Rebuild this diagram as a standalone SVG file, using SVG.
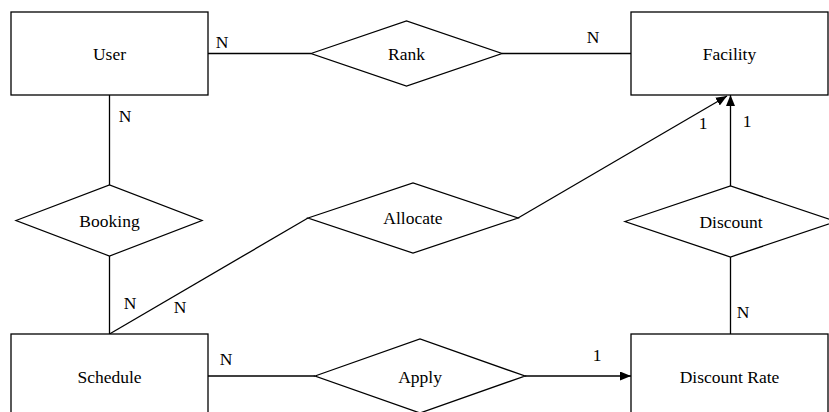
<svg xmlns="http://www.w3.org/2000/svg" width="829" height="412" viewBox="0 0 829 412">
<style>
.box{fill:#fff;stroke:#000;stroke-width:1.3}
.lbl{font-family:'Liberation Serif','Times New Roman',Tinos,'Nimbus Roman','DejaVu Serif',serif;font-size:17.5px;fill:#000;text-anchor:middle}
.edge{fill:none;stroke:#000;stroke-width:1.3}
</style>
<defs>
<marker id="arr" markerWidth="12" markerHeight="10" refX="11" refY="4.5" orient="auto" markerUnits="userSpaceOnUse">
<path d="M0,0 L11,4.5 L0,9 Z" fill="#000"/>
</marker>
</defs>
<rect width="829" height="412" fill="#fff"/>
<g id="connectors">
<line class="edge" x1="208" y1="53.5" x2="311" y2="53.5"/>
<line class="edge" x1="502" y1="53.5" x2="631" y2="53.5"/>
<line class="edge" x1="109.5" y1="95" x2="109.5" y2="185"/>
<line class="edge" x1="109.5" y1="256" x2="109.5" y2="334"/>
<line class="edge" x1="109.5" y1="334" x2="308" y2="218"/>
<line class="edge" x1="518" y1="218" x2="727" y2="96" marker-end="url(#arr)"/>
<line class="edge" x1="730.5" y1="186" x2="730.5" y2="95" marker-end="url(#arr)"/>
<line class="edge" x1="730.5" y1="257" x2="730.5" y2="334"/>
<line class="edge" x1="208" y1="376" x2="315" y2="376"/>
<line class="edge" x1="525" y1="376" x2="631" y2="376" marker-end="url(#arr)"/>
<text class="lbl" x="222" y="48">N</text>
<text class="lbl" x="593" y="43">N</text>
<text class="lbl" x="125" y="122">N</text>
<text class="lbl" x="703" y="129">1</text>
<text class="lbl" x="747" y="127">1</text>
<text class="lbl" x="130" y="309">N</text>
<text class="lbl" x="180" y="313">N</text>
<text class="lbl" x="743" y="318">N</text>
<text class="lbl" x="226" y="365">N</text>
<text class="lbl" x="597" y="361">1</text>
</g>
<g id="user">
<rect class="box" x="11" y="12" width="197" height="83"/>
<text class="lbl" x="109.5" y="59.5">User</text>
</g>
<g id="facility">
<rect class="box" x="631" y="12" width="197" height="83"/>
<text class="lbl" x="729.5" y="59.5">Facility</text>
</g>
<g id="rank">
<polygon class="box" points="311,53.5 406.5,21 502,53.5 406.5,86"/>
<text class="lbl" x="406.5" y="59.5">Rank</text>
</g>
<g id="booking">
<polygon class="box" points="16,220.5 109.5,185 202,220.5 109.5,256"/>
<text class="lbl" x="109.5" y="226.5">Booking</text>
</g>
<g id="allocate">
<polygon class="box" points="308,218 413,183 518,218 413,253"/>
<text class="lbl" x="413" y="224">Allocate</text>
</g>
<g id="discount">
<polygon class="box" points="625,221.5 730.5,186 836,221.5 730.5,257"/>
<text class="lbl" x="731" y="227.5">Discount</text>
</g>
<g id="schedule">
<rect class="box" x="11" y="334" width="197" height="83"/>
<text class="lbl" x="109.5" y="382.5">Schedule</text>
</g>
<g id="apply">
<polygon class="box" points="315,376 420,339 525,376 420,413"/>
<text class="lbl" x="420" y="382.5">Apply</text>
</g>
<g id="discount-rate">
<rect class="box" x="631" y="334" width="197" height="83"/>
<text class="lbl" x="729.5" y="382.5">Discount Rate</text>
</g>
</svg>
